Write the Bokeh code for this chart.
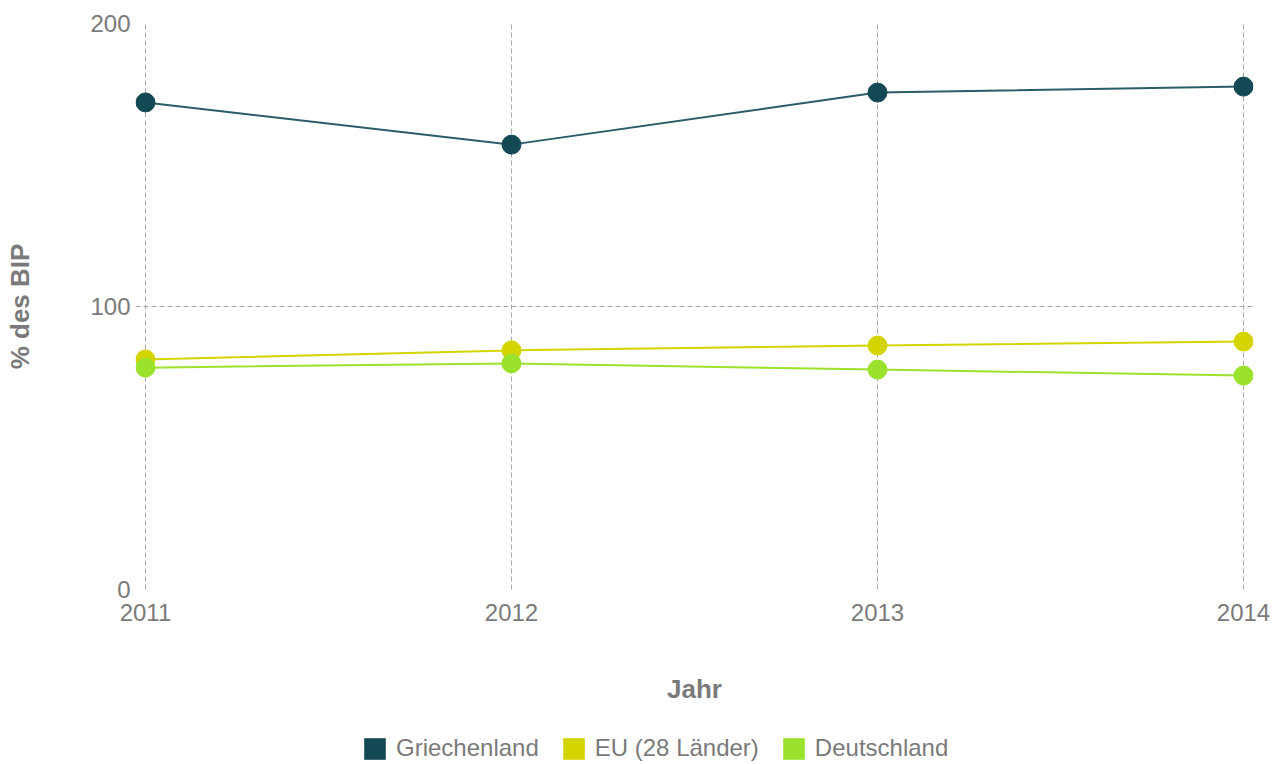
from bokeh.plotting import figure
from bokeh.layouts import column
from bokeh.models import ColumnDataSource, FixedTicker, Legend, LegendItem, Range1d
from bokeh.embed import file_html
from bokeh.resources import INLINE

years = [2011, 2012, 2013, 2014]
griechenland = [172.1, 157.2, 175.6, 177.7]
eu28 = [81.3, 84.5, 86.2, 87.6]
deutschland = [78.4, 79.9, 77.7, 75.6]

names = ["Griechenland", "EU (28 Länder)", "Deutschland"]
colors = ["#134955", "#d4d400", "#9be22c"]
line_colors = ["#2c5c67", "#d4d400", "#9be22c"]
series = [griechenland, eu28, deutschland]

y_ticks = [0, 100, 200]

FONT = "Liberation Sans"
GRAY = "#7a7a7a"
W = 1277
H_MAIN = 724
H_LEG = 38
PAD = 0.0273

p = figure(width=W, height=H_MAIN, output_backend="svg", toolbar_location=None,
           x_range=Range1d(2011 - PAD, 2014 + PAD), y_range=Range1d(0, 200),
           min_border_left=135, min_border_right=24, min_border_top=23,
           min_border_bottom=H_MAIN - 23 - 566)
p.outline_line_color = None
p.background_fill_color = "white"

for axis in (p.xaxis[0], p.yaxis[0]):
    axis.axis_line_color = None
    axis.major_tick_line_color = None
    axis.minor_tick_line_color = None
    axis.major_tick_out = 0
    axis.major_tick_in = 0
    axis.minor_tick_out = 0
    axis.minor_tick_in = 0
    axis.major_label_text_font = FONT
    axis.major_label_text_font_size = "24px"
    axis.major_label_text_color = GRAY
    axis.axis_label_text_font = FONT
    axis.axis_label_text_font_size = "26px"
    axis.axis_label_text_font_style = "bold"
    axis.axis_label_text_color = GRAY

p.xaxis.ticker = FixedTicker(ticks=years)
p.yaxis.ticker = FixedTicker(ticks=y_ticks)
p.xaxis.axis_label = "Jahr"
p.yaxis.axis_label = "% des BIP"
p.xaxis.major_label_standoff = 14
p.yaxis.major_label_standoff = 5
p.xaxis.axis_label_standoff = 50
p.yaxis.axis_label_standoff = 52

for g in (p.xgrid[0], p.ygrid[0]):
    g.grid_line_color = "#a8a8a8"
    g.grid_line_dash = "5 3"
    g.grid_line_width = 1

for col, lcol, vals in zip(colors, line_colors, series):
    src = ColumnDataSource(dict(x=years, y=vals))
    p.line("x", "y", source=src, line_color=lcol, line_width=2)
    p.scatter("x", "y", source=src, size=19, fill_color=col, line_color=col)

# legend strip below the chart
lf = figure(width=W, height=H_LEG, output_backend="svg", toolbar_location=None,
            x_range=Range1d(0, 1), y_range=Range1d(0, 1),
            min_border_left=0, min_border_right=0, min_border_top=0, min_border_bottom=0)
lf.axis.visible = False
lf.grid.visible = False
lf.outline_line_color = None

items = []
for name, col in zip(names, colors):
    q = lf.quad(left=[2], right=[3], top=[3], bottom=[2], fill_color=col, line_color=None)
    items.append(LegendItem(label=name, renderers=[q]))

legend = Legend(items=items, orientation="horizontal", location=(226, 0),
                label_text_font=FONT, label_text_font_size="24px", label_text_color=GRAY,
                glyph_width=27, glyph_height=27, label_standoff=8, spacing=21,
                border_line_color=None, background_fill_alpha=0, padding=0, margin=0)
lf.add_layout(legend, "center")

layout = column(p, lf, spacing=0)
open("out.html", "w").write(file_html(layout, INLINE))
